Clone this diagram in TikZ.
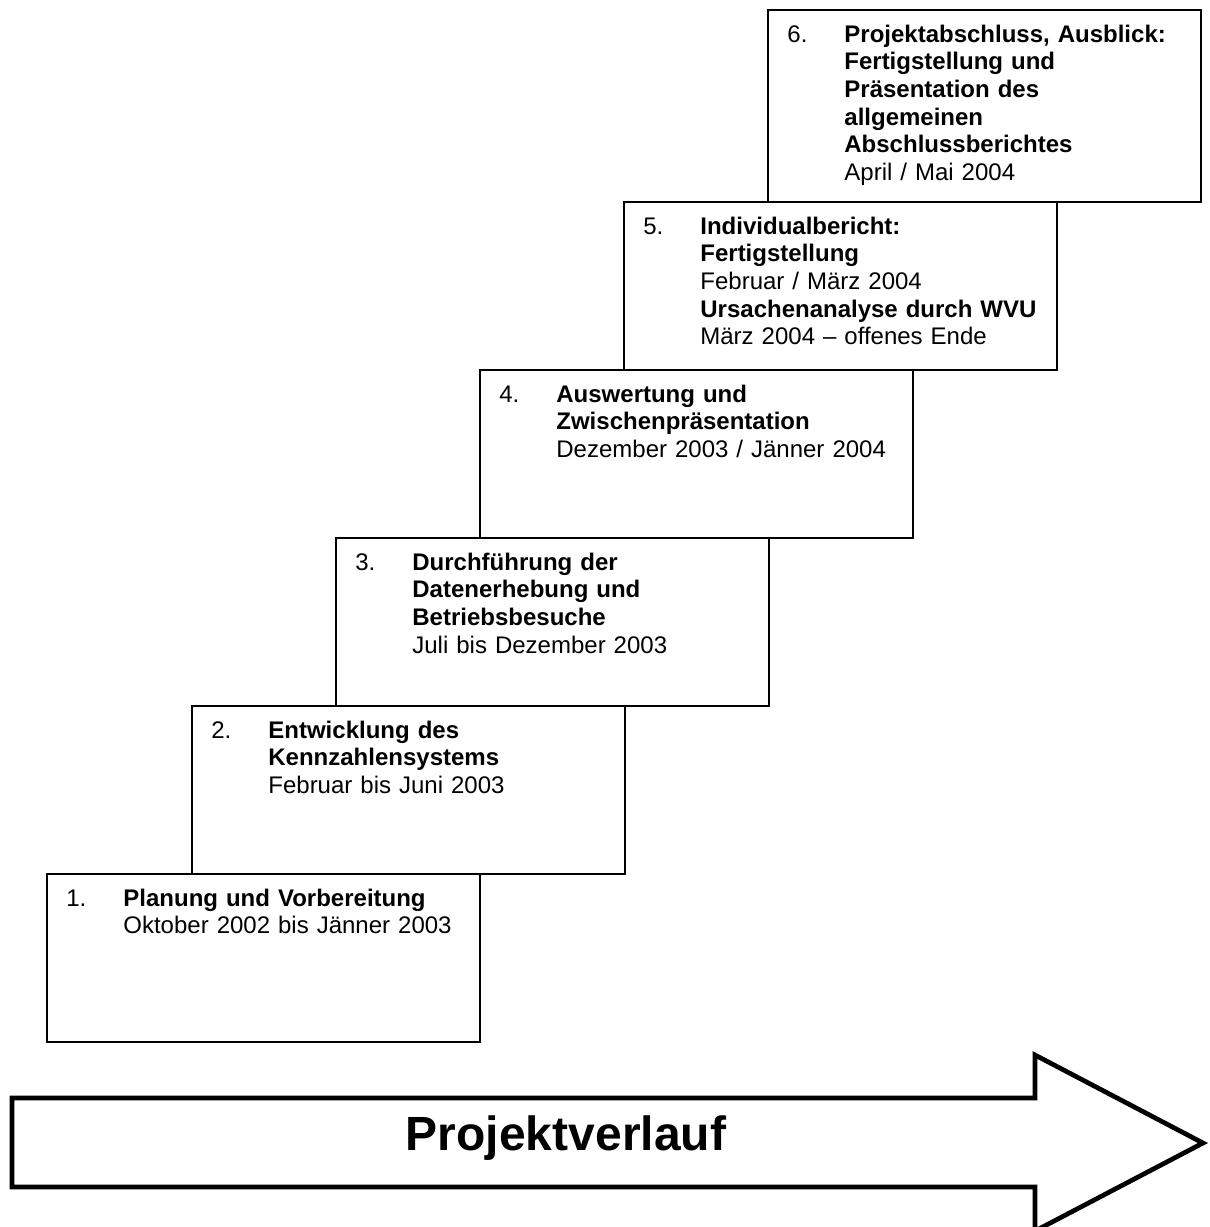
\documentclass[tikz,border=0pt]{standalone}
\usepackage{fontspec}
\setmainfont{Liberation Sans}
\usetikzlibrary{positioning}

\begin{document}
\begin{tikzpicture}[x=0.5pt,y=-0.5pt,font=\fontsize{12}{13.85}\selectfont,
  phase/.style={draw=black,line width=0.85pt,fill=white,inner sep=0pt,
    minimum width=216.5pt,minimum height=84pt,anchor=north west},
  nr/.style={anchor=base west,inner sep=0pt},
  info/.style={anchor=base west,inner sep=0pt,align=left,text width=200pt}]

\useasboundingbox (0,0) rectangle (1210,1227);

% Six phase boxes, stepping up to the right
\node[phase] (plan) at (46,873) {};
\node[phase] (kenn) at (191,705) {};
\node[phase] (erheb) at (335,537) {};
\node[phase] (ausw) at (479,369) {};
\node[phase] (indiv) at (623,201) {};
\node[phase,minimum height=96pt] (abschl) at (767,9) {};

% Numbers and texts inside the boxes
\node[nr] (plan-n) at ([xshift=10pt,yshift=-16.5pt]plan.north west) {1.};
\node[info] (plan-t) at ([xshift=38.5pt,yshift=-16.5pt]plan.north west)
  {\textbf{Planung und Vorbereitung}\\Oktober 2002 bis Jänner 2003};

\node[nr] (kenn-n) at ([xshift=10pt,yshift=-16.5pt]kenn.north west) {2.};
\node[info] (kenn-t) at ([xshift=38.5pt,yshift=-16.5pt]kenn.north west)
  {\textbf{Entwicklung des}\\\textbf{Kennzahlensystems}\\Februar bis Juni 2003};

\node[nr] (erheb-n) at ([xshift=10pt,yshift=-16.5pt]erheb.north west) {3.};
\node[info] (erheb-t) at ([xshift=38.5pt,yshift=-16.5pt]erheb.north west)
  {\textbf{Durchführung der}\\\textbf{Datenerhebung und}\\\textbf{Betriebsbesuche}\\Juli bis Dezember 2003};

\node[nr] (ausw-n) at ([xshift=10pt,yshift=-16.5pt]ausw.north west) {4.};
\node[info] (ausw-t) at ([xshift=38.5pt,yshift=-16.5pt]ausw.north west)
  {\textbf{Auswertung und}\\\textbf{Zwischenpräsentation}\\Dezember 2003 / Jänner 2004};

\node[nr] (indiv-n) at ([xshift=10pt,yshift=-16.5pt]indiv.north west) {5.};
\node[info] (indiv-t) at ([xshift=38.5pt,yshift=-16.5pt]indiv.north west)
  {\textbf{Individualbericht:}\\\textbf{Fertigstellung}\\Februar / März 2004\\
   \textbf{Ursachenanalyse durch WVU}\\März 2004 – offenes Ende};

\node[nr] (abschl-n) at ([xshift=10pt,yshift=-16.5pt]abschl.north west) {6.};
\node[info] (abschl-t) at ([xshift=38.5pt,yshift=-16.5pt]abschl.north west)
  {\textbf{Projektabschluss, Ausblick:}\\\textbf{Fertigstellung und}\\\textbf{Präsentation des}\\
   \textbf{allgemeinen}\\\textbf{Abschlussberichtes}\\April / Mai 2004};

% Big arrow along the bottom
\draw[line width=2.35pt,line join=miter]
  (12,1098) -- (1035,1098) -- (1035,1055) -- (1203,1143) -- (1035,1231)
  -- (1035,1187) -- (12,1187) -- cycle;
\node[anchor=base,inner sep=0pt,font=\fontsize{24}{28}\selectfont\bfseries]
  (verlauf) at (566,1150) {Projektverlauf};

\end{tikzpicture}
\end{document}
